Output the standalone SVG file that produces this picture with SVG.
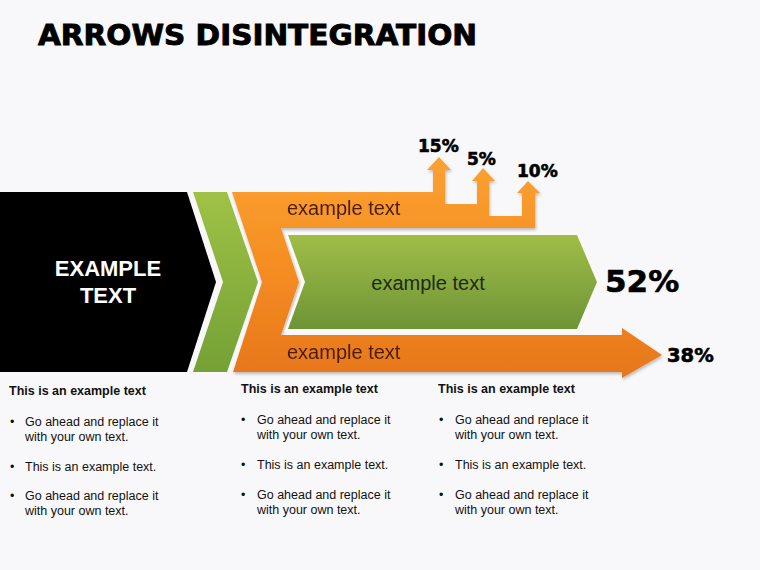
<svg xmlns="http://www.w3.org/2000/svg" width="760" height="570" viewBox="0 0 760 570">
<defs>
<linearGradient id="gOr" gradientUnits="userSpaceOnUse" x1="0" y1="157" x2="0" y2="378">
<stop offset="0" stop-color="#fba232"/>
<stop offset="0.5" stop-color="#f58d22"/>
<stop offset="1" stop-color="#e6761b"/>
</linearGradient>
<linearGradient id="gGr" gradientUnits="userSpaceOnUse" x1="0" y1="192" x2="0" y2="372">
<stop offset="0" stop-color="#9fc246"/>
<stop offset="1" stop-color="#74a035"/>
</linearGradient>
<linearGradient id="gGr2" gradientUnits="userSpaceOnUse" x1="0" y1="235" x2="0" y2="329">
<stop offset="0" stop-color="#a0bd48"/>
<stop offset="1" stop-color="#6e9436"/>
</linearGradient>
<filter id="sh" x="-5%" y="-5%" width="110%" height="115%">
<feDropShadow dx="1" dy="2" stdDeviation="1.5" flood-color="#000" flood-opacity="0.25"/>
</filter>
</defs>
<style>
.title{font-family:"DejaVu Sans",sans-serif;font-weight:bold;font-size:28px;fill:#000;stroke:#000;stroke-width:0.9px}
.big{font-family:"Liberation Sans",Arial,sans-serif;font-weight:bold;font-size:22px;fill:#fff}
.lbl{font-family:"Liberation Sans",Arial,sans-serif;font-size:20px}
.pct{font-family:"DejaVu Sans",sans-serif;font-weight:bold;fill:#000;stroke:#000;stroke-width:0.6px}
.hd{font-family:"Liberation Sans",Arial,sans-serif;font-weight:bold;font-size:12.5px;fill:#111}
.bl{font-family:"Liberation Sans",Arial,sans-serif;font-size:12.5px;fill:#111}
</style>
<rect x="0" y="0" width="760" height="570" fill="#f8f8fa"/>
<text class="title" x="38" y="45" textLength="439" lengthAdjust="spacingAndGlyphs">ARROWS DISINTEGRATION</text>

<g id="black-box">
<polygon points="0,192 187,192 216,282 187,372 0,372" fill="#000"/>
<text class="big" x="108" y="276" text-anchor="middle">EXAMPLE</text>
<text class="big" x="108" y="303" text-anchor="middle">TEXT</text>
</g>

<g id="green-chevron">
<polygon points="193,192 227,192 258,282 227,372 193,372 223,282" fill="url(#gGr)"/>
</g>

<g id="orange-arrow" filter="url(#sh)">
<polygon points="232,192 433,192 433,170 427,170 439,157 451,170 445,170 445,204 477,204 477,181 472,181 483,168 495,181 489,181 489,216 522,216 522,193 517,193 528,181 540,193 535,193 535,228 281,228 299,282 281,335 622,335 622,328 662,355 622,378 622,372 233,372 262,282" fill="url(#gOr)"/>
<text class="lbl" x="287" y="215" fill="#4a1e0c">example text</text>
<text class="lbl" x="287" y="359" fill="#4a1e0c">example text</text>
</g>

<g id="green-arrow">
<polygon points="288,235 577,235 597,282 577,329 288,329 305,282" fill="url(#gGr2)" stroke="#fbfbf6" stroke-width="5" paint-order="stroke"/>
<text class="lbl" x="428" y="290" text-anchor="middle" fill="#1f2a12">example text</text>
</g>

<g id="percentages">
<text class="pct" x="418" y="152" font-size="17">15%</text>
<text class="pct" x="467" y="165" font-size="17">5%</text>
<text class="pct" x="517" y="177" font-size="17">10%</text>
<text class="pct" x="605" y="292" font-size="31">52%</text>
<text class="pct" x="667" y="362" font-size="19.5">38%</text>
</g>

<g id="col1">
<text class="hd" x="9" y="395">This is an example text</text>
<text class="bl" x="10" y="426">•</text><text class="bl" x="25" y="426">Go ahead and replace it</text>
<text class="bl" x="25" y="441">with your own text.</text>
<text class="bl" x="10" y="471">•</text><text class="bl" x="25" y="471">This is an example text.</text>
<text class="bl" x="10" y="500">•</text><text class="bl" x="25" y="500">Go ahead and replace it</text>
<text class="bl" x="25" y="515">with your own text.</text>
</g>
<g id="col2">
<text class="hd" x="241" y="393">This is an example text</text>
<text class="bl" x="241" y="424">•</text><text class="bl" x="257" y="424">Go ahead and replace it</text>
<text class="bl" x="257" y="439">with your own text.</text>
<text class="bl" x="241" y="469">•</text><text class="bl" x="257" y="469">This is an example text.</text>
<text class="bl" x="241" y="499">•</text><text class="bl" x="257" y="499">Go ahead and replace it</text>
<text class="bl" x="257" y="514">with your own text.</text>
</g>
<g id="col3">
<text class="hd" x="438" y="393">This is an example text</text>
<text class="bl" x="439" y="424">•</text><text class="bl" x="455" y="424">Go ahead and replace it</text>
<text class="bl" x="455" y="439">with your own text.</text>
<text class="bl" x="439" y="469">•</text><text class="bl" x="455" y="469">This is an example text.</text>
<text class="bl" x="439" y="499">•</text><text class="bl" x="455" y="499">Go ahead and replace it</text>
<text class="bl" x="455" y="514">with your own text.</text>
</g>
</svg>
